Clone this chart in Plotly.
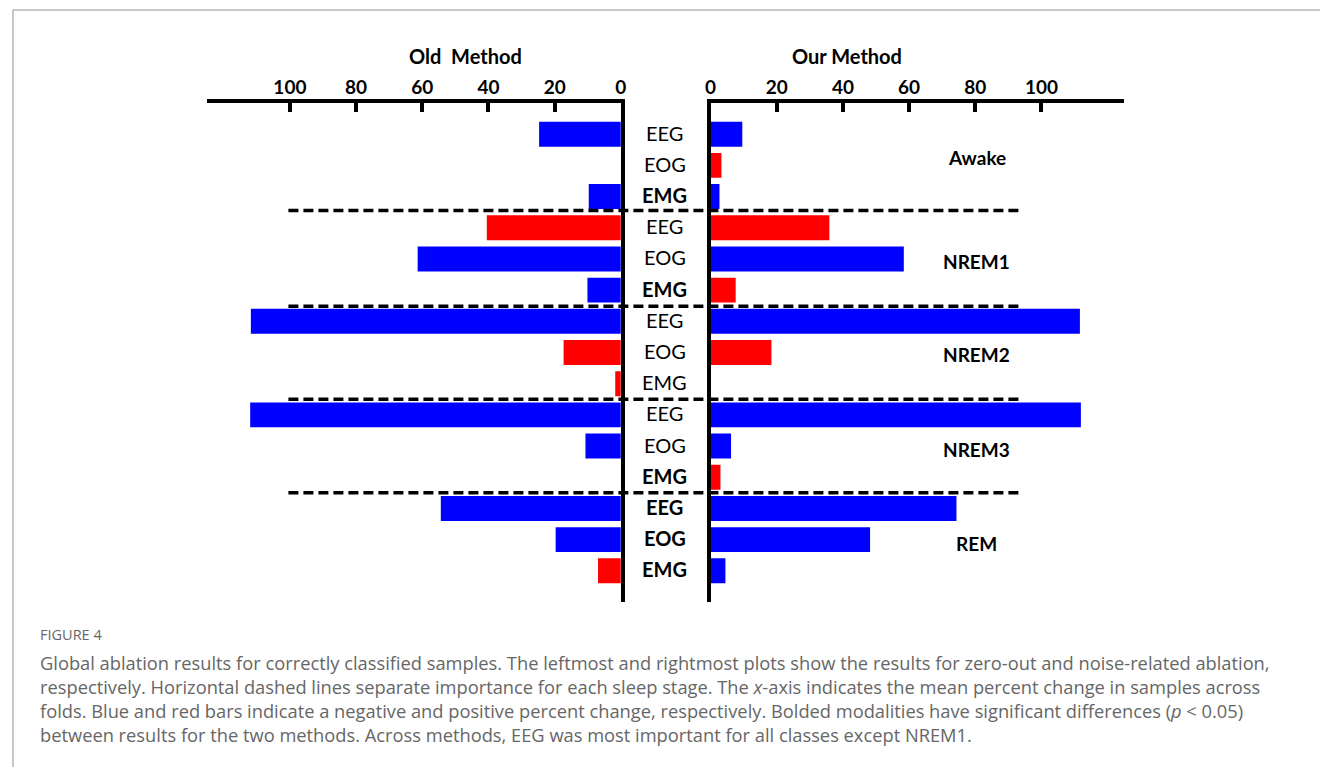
import plotly.graph_objects as go

# ---------------- data ----------------
stages = ["Awake", "NREM1", "NREM2", "NREM3", "REM"]
modalities = ["EEG", "EOG", "EMG"]
# signed mean percent change (negative -> blue bar, positive -> red bar)
old_method = [-24.7, 0.0, -9.7,
              40.5, -61.4, -10.1,
              -111.8, 17.3, 1.7,
              -112.0, -10.7, 0.0,
              -54.4, -19.7, 6.9]
our_method = [-9.6, 3.3, -2.7,
              35.9, -58.4, 7.6,
              -111.6, 18.4, 0.0,
              -111.9, -6.2, 3.0,
              -74.3, -48.2, -4.5]
# bolded modalities (significant differences)
bold_rows = [False, False, True,
             False, False, True,
             False, False, False,
             False, False, True,
             True, True, True]
tick_vals = [0, 20, 40, 60, 80, 100]
panel_titles = ["Old\u00a0 Method", "Our Method"]
caption_label = "FIGURE 4"
caption_lines = [
    "Global ablation results for correctly classified samples. The leftmost and rightmost plots show the results for zero-out and noise-related ablation,",
    "respectively. Horizontal dashed lines separate importance for each sleep stage. The <i>x</i>-axis indicates the mean percent change in samples across",
    "folds. Blue and red bars indicate a negative and positive percent change, respectively. Bolded modalities have significant differences (<i>p</i> &lt; 0.05)",
    "between results for the two methods. Across methods, EEG was most important for all classes except NREM1.",
]

# ---------------- layout constants ----------------
W, H = 1320, 767
FONT = "Lato"
CAP_FONT = "Open Sans"
BLUE, RED = "#0000FF", "#FF0000"
rows = list(range(len(old_method)))
row_labels = [m for _ in stages for m in modalities]


def colors(vals):
    return [BLUE if v < 0 else RED for v in vals]


fig = go.Figure()
fig.add_trace(go.Bar(x=[abs(v) for v in old_method], y=rows, orientation="h",
                     marker=dict(color=colors(old_method), line=dict(width=0)),
                     width=0.8, xaxis="x", yaxis="y", showlegend=False,
                     hoverinfo="skip"))
fig.add_trace(go.Bar(x=[abs(v) for v in our_method], y=rows, orientation="h",
                     marker=dict(color=colors(our_method), line=dict(width=0)),
                     width=0.8, xaxis="x2", yaxis="y2", showlegend=False,
                     hoverinfo="skip"))

ydom = [1 - 602 / H, 1 - 103 / H]
xcommon = dict(side="top", showline=True, linecolor="black", linewidth=4,
               ticks="inside", ticklen=9, tickwidth=3.5, tickcolor="black",
               tickvals=tick_vals, showgrid=False, zeroline=False,
               ticklabelstandoff=-3,
               tickfont=dict(family=FONT, size=19, color="black", weight="bold"),
               fixedrange=True)
ycommon = dict(range=[15, -1], domain=ydom, showline=True, linecolor="black",
               linewidth=4, showticklabels=False, ticks="", showgrid=False,
               zeroline=False, fixedrange=True)

fig.update_layout(
    width=W, height=H,
    margin=dict(l=0, r=0, t=0, b=0),
    paper_bgcolor="white", plot_bgcolor="white",
    font=dict(family=FONT, color="black"),
    xaxis=dict(domain=[203 / W, 620.5 / W], range=[125, 0], anchor="y", **xcommon),
    yaxis=dict(side="right", anchor="x", **ycommon),
    xaxis2=dict(domain=[711 / W, 1128.5 / W], range=[0, 125], anchor="y2", **xcommon),
    yaxis2=dict(side="left", anchor="x2", **ycommon),
)

ann = []
# panel titles
for txt, xc in zip(panel_titles, [464, 849]):
    ann.append(dict(text=f"<b>{txt}</b>", xref="paper", yref="paper",
                    x=xc / W, y=1 - 56 / H, xanchor="center", yanchor="middle",
                    showarrow=False,
                    font=dict(family=FONT, size=20, color="black")))
# modality labels
for r, lab, b in zip(rows, row_labels, bold_rows):
    ann.append(dict(text=f"<b>{lab}</b>" if b else lab, xref="paper", yref="y",
                    x=665 / W, y=r - 0.05, xanchor="center", yanchor="middle",
                    showarrow=False,
                    font=dict(family=FONT, size=20, color="black")))
# stage labels
stage_y_offsets = [-0.25, 0.08, 0.07, 0.1, 0.13]
for i, (s, off) in enumerate(zip(stages, stage_y_offsets)):
    ann.append(dict(text=f"<b>{s}</b>", xref="x2", yref="y2",
                    x=80.5, y=3 * i + 1 + off, xanchor="center", yanchor="middle",
                    showarrow=False,
                    font=dict(family=FONT, size=19, color="black")))
# caption
ann.append(dict(text=caption_label, xref="paper", yref="paper", x=32 / W,
                y=1 - 634 / H, xanchor="left", yanchor="middle", showarrow=False,
                font=dict(family=CAP_FONT, size=14.5, color="#666666")))
for k, line in enumerate(caption_lines):
    ann.append(dict(text=line, xref="paper", yref="paper", x=32 / W,
                    y=1 - (662 + 24 * k) / H, xanchor="left", yanchor="middle",
                    showarrow=False,
                    font=dict(family=CAP_FONT, size=18.3, color="#666666")))
fig.update_layout(annotations=ann)

shapes = []
for yb in [2.45, 5.52, 8.5, 11.5]:
    shapes.append(dict(type="line", xref="paper", yref="y", x0=285 / W, x1=1023 / W,
                       y0=yb, y1=yb, line=dict(color="black", width=3.5, dash="10px,5px")))
# card frame
shapes.append(dict(type="line", xref="paper", yref="paper", x0=7 / W, x1=1.01,
                   y0=1 - 10 / H, y1=1 - 10 / H, line=dict(color="#b5b5b5", width=1.5)))
shapes.append(dict(type="line", xref="paper", yref="paper", x0=7 / W, x1=7 / W,
                   y0=0, y1=1 - 10 / H, line=dict(color="#b5b5b5", width=1.5)))
fig.update_layout(shapes=shapes)

fig.write_html("out.html")
